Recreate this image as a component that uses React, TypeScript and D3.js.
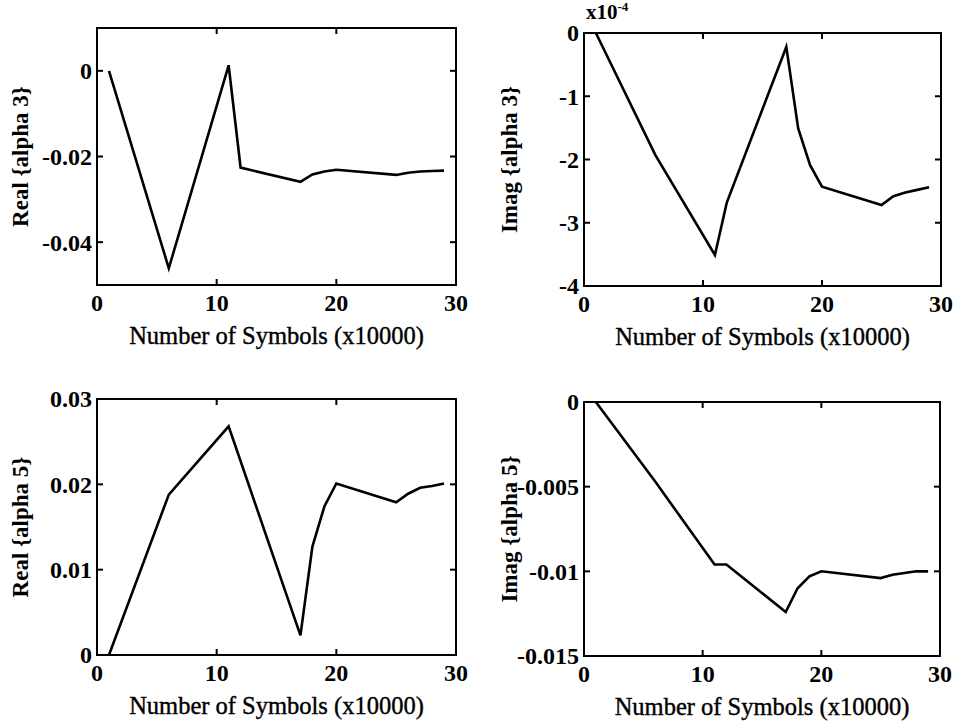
import React from "react";
import * as d3 from "d3";

// Sample positions (x10000 symbols)
const xsA = [1, 6, 11, 12, 17, 18, 19, 20, 25, 26, 27, 28, 29];

// Real part of alpha 3
const realAlpha3 = [0, -0.0461, 0.0013, -0.0226, -0.0259, -0.0242, -0.0235, -0.0231, -0.0243, -0.0238, -0.0235, -0.0234, -0.0233];
// Imag part of alpha 3 (x10^-4)
const imagAlpha3 = [0, -1.93, -3.51, -2.68, -0.22, -1.51, -2.09, -2.43, -2.72, -2.58, -2.52, -2.48, -2.44];
// Real part of alpha 5
const realAlpha5 = [0, 0.0188, 0.0268, 0.0268, 0.0023, 0.0127, 0.0174, 0.0201, 0.0179, 0.0189, 0.0196, 0.0198, 0.0201];
const xsReal5 = [1, 6, 11, 11, 17, 18, 19, 20, 25, 26, 27, 28, 29];
// Imag part of alpha 5
const imagAlpha5 = [0, -0.0047, -0.0096, -0.0096, -0.0124, -0.011, -0.0103, -0.01, -0.0104, -0.0102, -0.0101, -0.01, -0.01];

const xTicks = [0, 10, 20, 30];
const yTicksReal3 = [-0.04, -0.02, 0];
const yTicksImag3 = [-4, -3, -2, -1, 0];
const yTicksReal5 = [0, 0.01, 0.02, 0.03];
const yTicksImag5 = [-0.015, -0.01, -0.005, 0];

const xTitle = "Number of Symbols (x10000)";

type PanelProps = {
  left: number;
  right: number;
  top: number;
  bottom: number;
  xs: number[];
  ys: number[];
  yDomain: [number, number];
  yTicks: number[];
  yLabel: string;
  yLabelX: number;
  exponent?: boolean;
};

const FONT = "'Liberation Serif', 'Times New Roman', serif";

function fmt(v: number) {
  return v === 0 ? "0" : String(v);
}

function Panel({ left, right, top, bottom, xs, ys, yDomain, yTicks, yLabel, yLabelX, exponent }: PanelProps) {
  const x = d3.scaleLinear().domain([0, 30]).range([left, right]);
  const y = d3.scaleLinear().domain(yDomain).range([bottom, top]);
  const line = d3
    .line<number>()
    .x((_, i) => x(xs[i]))
    .y((d) => y(d));
  const tl = 6;
  return (
    <g>
      <path d={line(ys) ?? ""} fill="none" stroke="#000" strokeWidth={2.6} strokeLinejoin="miter" />
      <rect x={left} y={top} width={right - left} height={bottom - top} fill="none" stroke="#000" strokeWidth={2} />
      {xTicks.map((t) => (
        <g key={"x" + t}>
          <line x1={x(t)} x2={x(t)} y1={bottom} y2={bottom - tl} stroke="#000" strokeWidth={2} />
          <line x1={x(t)} x2={x(t)} y1={top} y2={top + tl} stroke="#000" strokeWidth={2} />
          <text
            x={x(t)}
            y={bottom + 26}
            textAnchor="middle"
            fontFamily={FONT}
            fontWeight="bold"
            fontSize={24}
          >
            {t}
          </text>
        </g>
      ))}
      {yTicks.map((t) => (
        <g key={"y" + t}>
          <line x1={left} x2={left + tl} y1={y(t)} y2={y(t)} stroke="#000" strokeWidth={2} />
          <line x1={right} x2={right - tl} y1={y(t)} y2={y(t)} stroke="#000" strokeWidth={2} />
          <text
            x={left - 5}
            y={y(t)}
            dy="0.35em"
            textAnchor="end"
            fontFamily={FONT}
            fontWeight="bold"
            fontSize={24}
          >
            {fmt(t)}
          </text>
        </g>
      ))}
      <text
        x={(left + right) / 2}
        y={bottom + 59}
        textAnchor="middle"
        fontFamily={FONT}
        fontSize={24.5}
        stroke="#000"
        strokeWidth={0.4}
      >
        {xTitle}
      </text>
      <text
        transform={`translate(${yLabelX},${(top + bottom) / 2}) rotate(-90)`}
        textAnchor="middle"
        fontFamily={FONT}
        fontWeight="bold"
        fontSize={23}
      >
        {yLabel}
      </text>
      {exponent && (
        <text x={left + 2} y={top - 14} fontFamily={FONT} fontWeight="bold" fontSize={21}>
          x10
          <tspan fontSize={13} dy={-8}>
            -4
          </tspan>
        </text>
      )}
    </g>
  );
}

export default function App() {
  return (
    <svg
      width={954}
      height={726}
      style={{ position: "absolute", left: 0, top: 0, background: "#fff" }}
    >
      <rect width={954} height={726} fill="#fff" />
      <Panel
        left={97}
        right={456}
        top={28}
        bottom={285}
        xs={xsA}
        ys={realAlpha3}
        yDomain={[-0.05, 0.01]}
        yTicks={yTicksReal3}
        yLabel="Real {alpha 3}"
        yLabelX={28}
      />
      <Panel
        left={584}
        right={941}
        top={33}
        bottom={286}
        xs={xsA}
        ys={imagAlpha3}
        yDomain={[-4, 0]}
        yTicks={yTicksImag3}
        yLabel="Imag {alpha 3}"
        yLabelX={517}
        exponent
      />
      <Panel
        left={97}
        right={456}
        top={399}
        bottom={655}
        xs={xsReal5}
        ys={realAlpha5}
        yDomain={[0, 0.03]}
        yTicks={yTicksReal5}
        yLabel="Real {alpha 5}"
        yLabelX={28}
      />
      <Panel
        left={584}
        right={940}
        top={402}
        bottom={656}
        xs={xsA}
        ys={imagAlpha5}
        yDomain={[-0.015, 0]}
        yTicks={yTicksImag5}
        yLabel="Imag {alpha 5}"
        yLabelX={517}
      />
    </svg>
  );
}
